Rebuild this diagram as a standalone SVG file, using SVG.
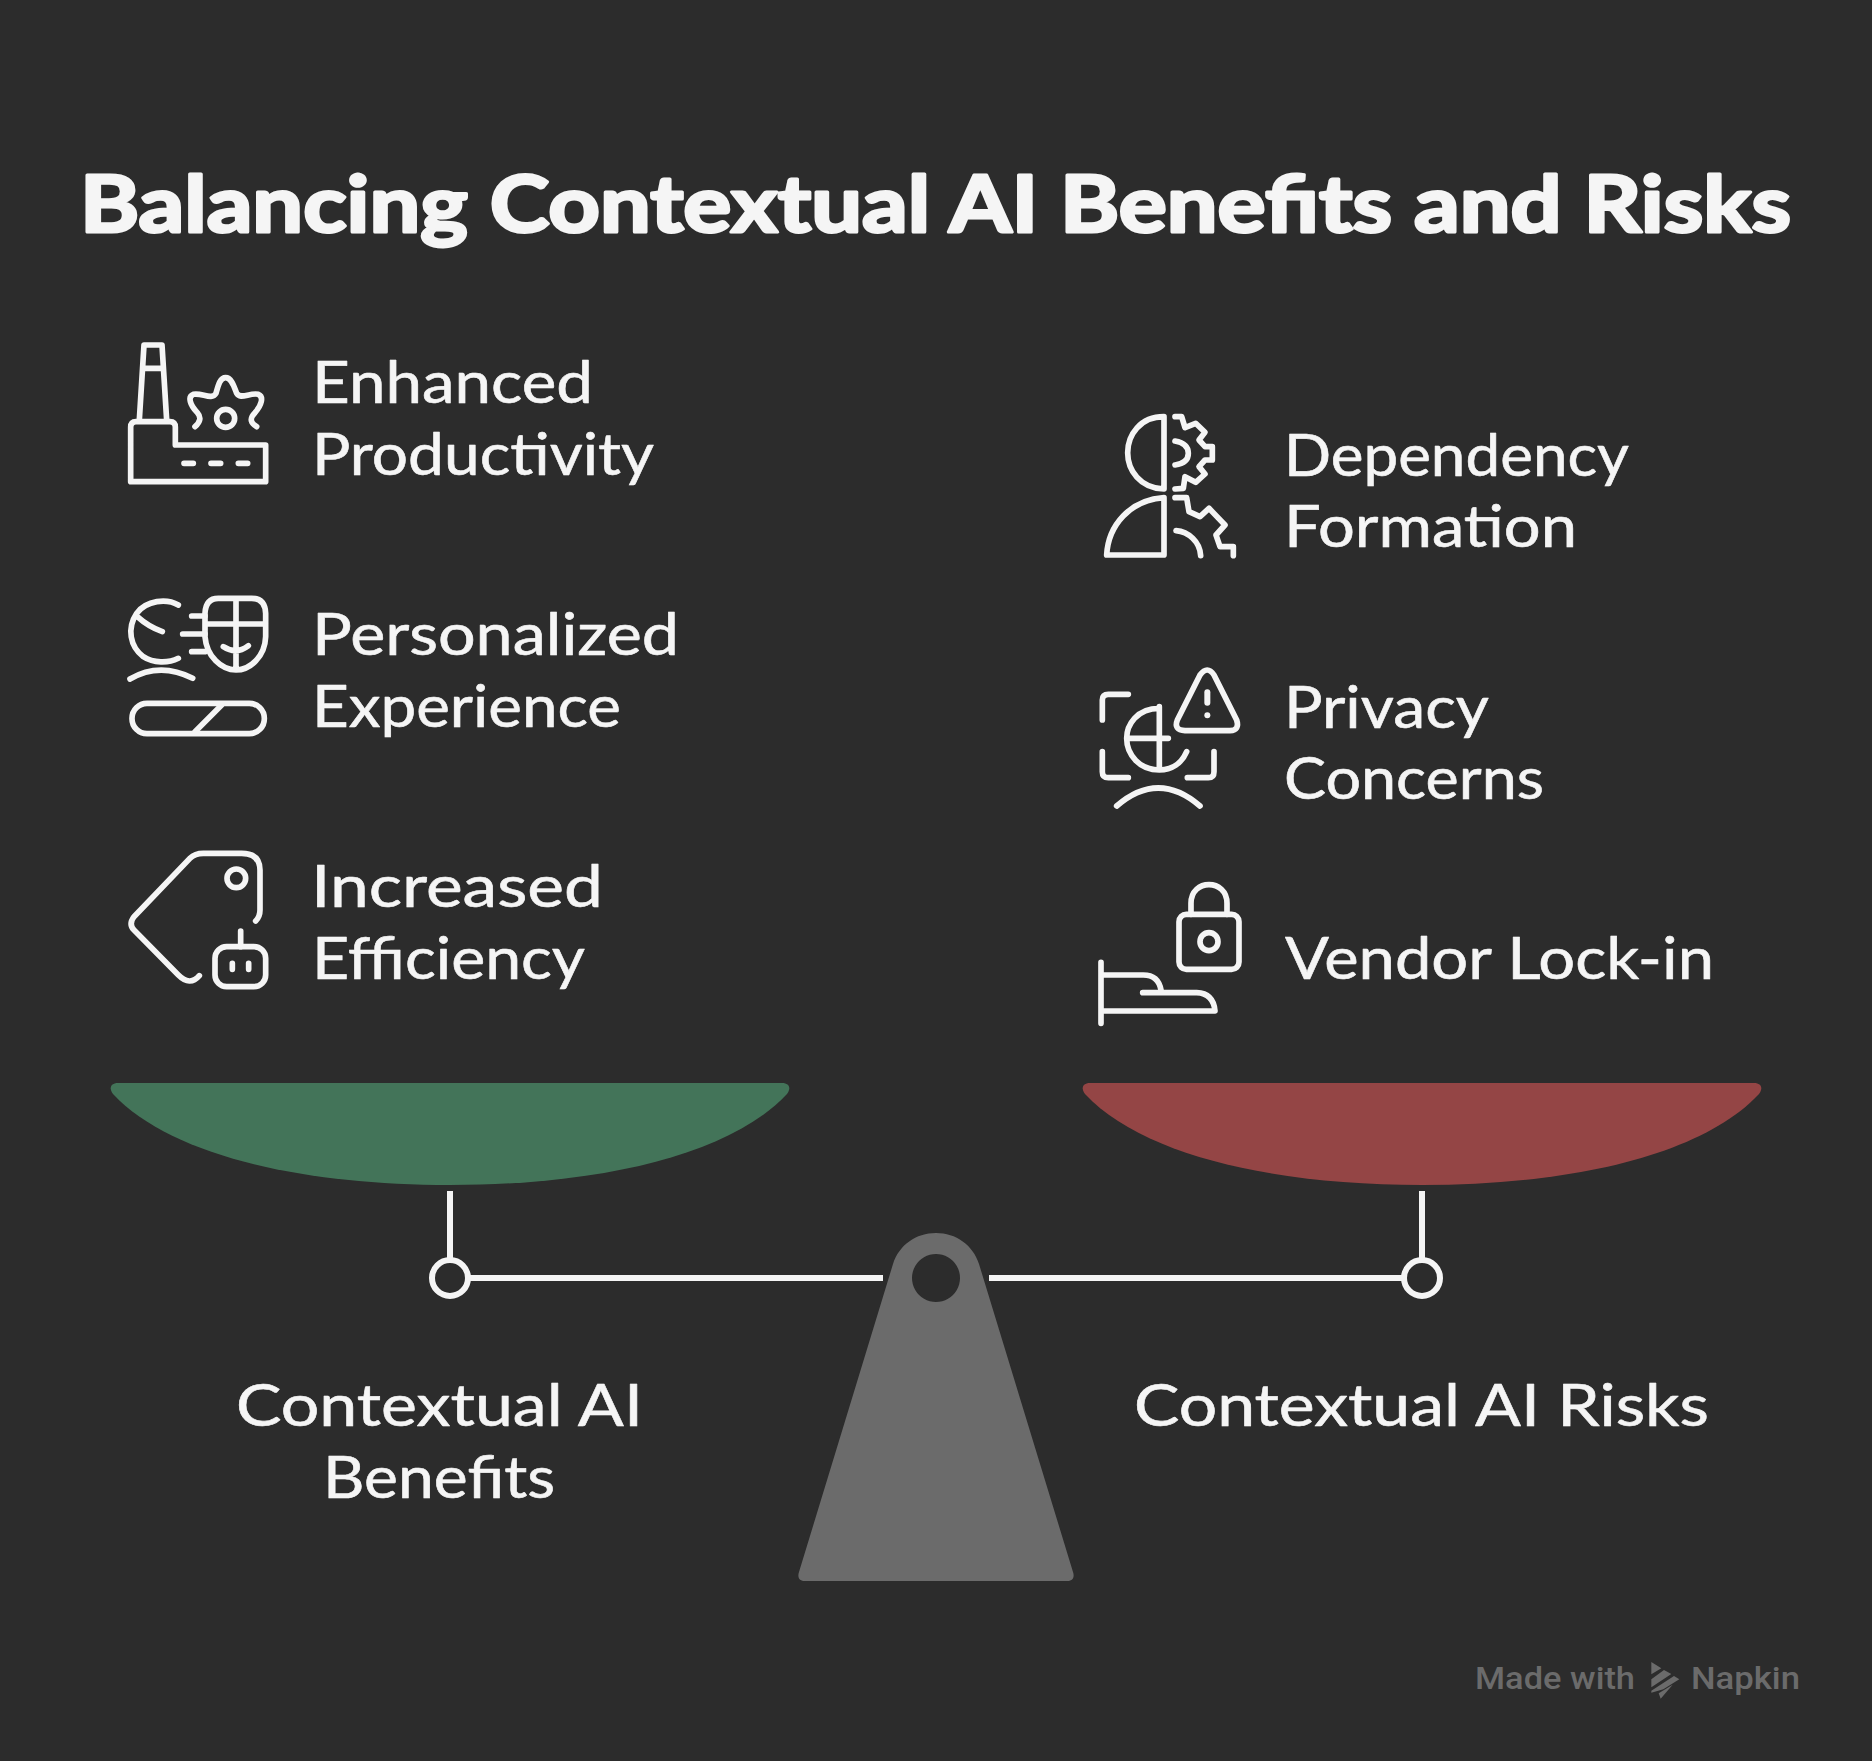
<svg xmlns="http://www.w3.org/2000/svg" width="1872" height="1761" viewBox="0 0 1872 1761">
<style>
.t{font-family:"Lato","Open Sans",sans-serif;fill:#f5f5f5;font-size:58px;stroke:#f5f5f5;stroke-width:.6px;stroke-linejoin:round}
.title{font-family:"Lato","Open Sans",sans-serif;font-weight:700;fill:#f5f5f5;font-size:78px;stroke:#f5f5f5;stroke-width:3px;stroke-linejoin:round}
.i{fill:none;stroke:#f5f5f5;stroke-width:17;stroke-linecap:round;stroke-linejoin:round}
.w{font-family:"Roboto","Inter",sans-serif;font-weight:500;fill:#6b6b6b;font-size:32px}
.l{fill:none;stroke:#f5f5f5;stroke-width:6}
</style>
<rect width="1872" height="1761" fill="#2c2c2c"/>
<text id="title" class="title" x="80" y="232" textLength="1711" lengthAdjust="spacingAndGlyphs">Balancing Contextual AI Benefits and Risks</text>

<g id="benefit-productivity">
<g class="i" transform="translate(110,330) scale(.33333)">
<path d="M88 270L102 45H156L170 270M104 115H156"/>
<path d="M62 292Q62 275 78 275H180Q196 275 196 292V345H467V455H62Z"/>
<path d="M222 400H250M303 400H332M385 400H413"/>
<circle cx="347" cy="265" r="27"/>
<path d="M255 290Q280 268 262 248C240 225 232 200 250 193C275 187 305 212 318 190C325 165 330 143 347 143C365 143 372 170 380 190C390 210 420 187 445 193C462 200 455 225 435 248C415 268 425 280 440 290"/>
</g>
<text class="t" x="312" y="403" textLength="281" lengthAdjust="spacingAndGlyphs">Enhanced</text>
<text class="t" x="312" y="475" textLength="342" lengthAdjust="spacingAndGlyphs">Productivity</text>
</g>

<g id="benefit-personalized">
<g class="i" transform="translate(110,580) scale(.33333)">
<path d="M205 75C170 55 110 60 80 100C50 145 60 200 100 230C130 250 175 250 205 235M82 110Q115 140 157 155M60 297Q150 245 248 295"/>
<path d="M245 108H285M218 162H285M245 215H285"/>
<path d="M325 55H425Q465 55 467 100V170C465 230 420 270 378 270C335 270 290 230 285 170V100Q287 55 325 55ZM378 55V270M285 132H467M340 200Q378 225 415 197"/>
<rect x="66" y="370" width="397" height="91" rx="45"/>
<path d="M255 455L335 375"/>
</g>
<text class="t" x="312" y="655" textLength="367" lengthAdjust="spacingAndGlyphs">Personalized</text>
<text class="t" x="312" y="727" textLength="309" lengthAdjust="spacingAndGlyphs">Experience</text>
</g>

<g id="benefit-efficiency">
<g class="i" transform="translate(110,835) scale(.33333)">
<path d="M437 258Q450 245 450 225V105Q450 55 395 55H280Q255 55 240 70L72 245Q55 268 72 285L205 420Q240 455 268 422"/>
<circle cx="379" cy="130" r="28"/>
<path d="M392 288V335"/>
<rect x="315" y="335" width="152" height="120" rx="35"/>
<path d="M367 385V403M416 385V403"/>
</g>
<text class="t" x="311" y="907" textLength="292" lengthAdjust="spacingAndGlyphs">Increased</text>
<text class="t" x="312" y="979" textLength="273" lengthAdjust="spacingAndGlyphs">Efficiency</text>
</g>

<g id="risk-dependency">
<g class="i" transform="translate(1090,405) scale(.33333)">
<path d="M222 35C150 35 113 90 113 143C113 195 150 250 222 252ZM222 278C120 285 55 360 50 450H222Z"/>
<path d="M255 35H275L285 68L317 55L345 82L327 105L345 125H367V165H345L327 185L345 207L317 232L285 215L280 250L255 252M255 108Q295 115 295 145Q295 175 255 180"/>
<path d="M255 278H290L297 320L330 335L357 310L405 360L378 390L390 425H430V452M258 377C295 380 330 410 332 452"/>
</g>
<text class="t" x="1284" y="476" textLength="345" lengthAdjust="spacingAndGlyphs">Dependency</text>
<text class="t" x="1284" y="547" textLength="293" lengthAdjust="spacingAndGlyphs">Formation</text>
</g>

<g id="risk-privacy">
<g class="i" transform="translate(1090,660) scale(.33333)">
<path d="M330 45Q352 15 372 45L440 180Q450 210 420 212H285Q250 210 262 180Z"/>
<path d="M352 97V128" stroke-width="18"/>
<circle cx="352" cy="166" r="9" fill="#f5f5f5" stroke="none"/>
<path d="M115 103H55Q37 103 37 120V180M37 275V335Q37 353 55 353H115M372 275V335Q372 353 355 353H292"/>
<path d="M208 145C140 145 110 195 110 235C110 285 150 330 208 330C245 330 275 310 290 275M208 140V330M110 235H235M80 438Q205 330 330 438"/>
</g>
<text class="t" x="1284" y="728" textLength="205" lengthAdjust="spacingAndGlyphs">Privacy</text>
<text class="t" x="1284" y="799" textLength="260" lengthAdjust="spacingAndGlyphs">Concerns</text>
</g>

<g id="risk-lockin">
<g class="i" transform="translate(1090,875) scale(.33333)">
<rect x="267" y="118" width="180" height="165" rx="22"/>
<path d="M303 118V85C303 10 411 10 411 85V118"/>
<circle cx="357" cy="200" r="27"/>
<path d="M33 262V445M33 300H160Q205 300 213 345M158 353H320Q370 355 375 408H33"/>
</g>
<text class="t" x="1285" y="979" textLength="429" lengthAdjust="spacingAndGlyphs">Vendor Lock-in</text>
</g>

<g id="pan-benefits">
<path d="M118 1083H782C790 1083 791 1089 787 1094C730 1155 600 1185 450 1185C300 1185 170 1155 113 1094C109 1089 110 1083 118 1083Z" fill="#437459"/>
<text class="t" x="236" y="1426" textLength="407" lengthAdjust="spacingAndGlyphs">Contextual AI</text>
<text class="t" x="323" y="1498" textLength="232" lengthAdjust="spacingAndGlyphs">Benefits</text>
</g>
<g id="pan-risks">
<path d="M1090 1083H1754C1762 1083 1763 1089 1759 1094C1702 1155 1572 1185 1422 1185C1272 1185 1142 1155 1085 1094C1081 1089 1082 1083 1090 1083Z" fill="#944545"/>
<text class="t" x="1134" y="1426" textLength="575" lengthAdjust="spacingAndGlyphs">Contextual AI Risks</text>
</g>

<g id="connectors">
<path class="l" d="M450 1191V1260M1422 1191V1260M468 1278H883M989 1278H1404"/>
<circle class="l" cx="450" cy="1278" r="18"/>
<circle class="l" cx="1422" cy="1278" r="18"/>
</g>

<g id="fulcrum">
<path fill-rule="evenodd" fill="#6b6b6b" d="M893 1264C899 1245 916 1233 936 1233C956 1233 973 1245 979 1264L1073 1572C1075 1578 1072 1581 1067 1581H805C800 1581 797 1578 799 1572ZM936 1254a24 24 0 1 0 .01 0Z"/>
</g>

<g id="watermark">
<text class="w" x="1475" y="1689" textLength="160" lengthAdjust="spacingAndGlyphs">Made with</text>
<g fill="#6b6b6b" transform="translate(1450,1640) scale(.33333)">
<path d="M604 66L634 85L604 103ZM604 118L642 90L664 102L604 142ZM604 152L672 108L688 118L640 148L604 158ZM626 160L668 134L632 176Z"/>
</g>
<text class="w" x="1691" y="1689" textLength="109" lengthAdjust="spacingAndGlyphs">Napkin</text>
</g>
</svg>
